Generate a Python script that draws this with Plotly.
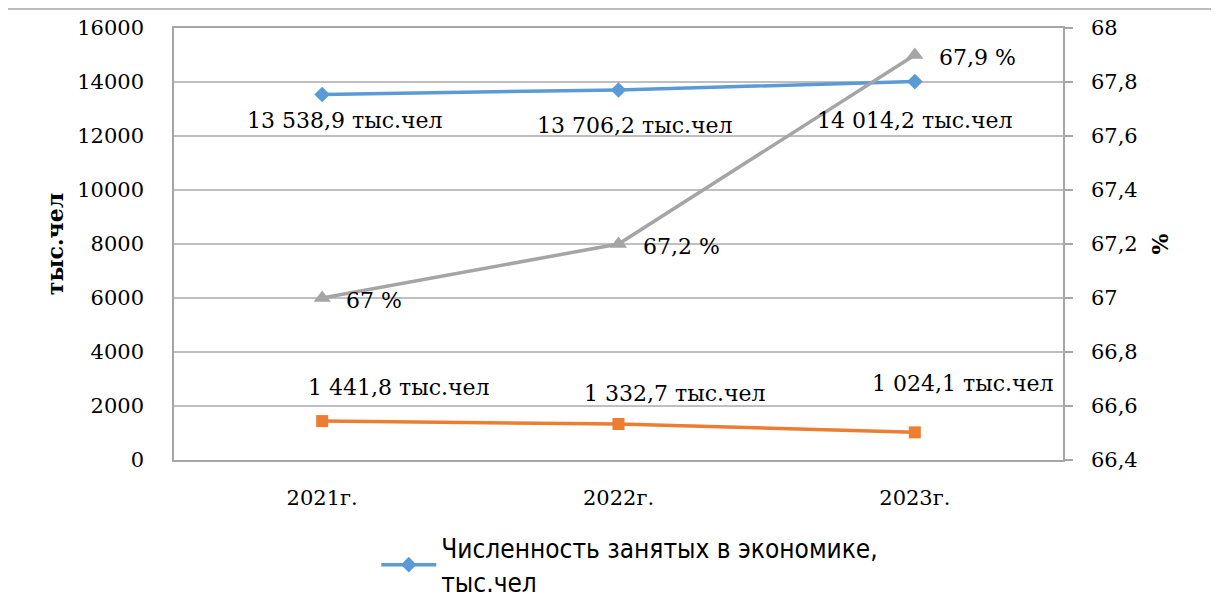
import plotly.graph_objects as go

categories = ["2021г.", "2022г.", "2023г."]
employed = [13538.9, 13706.2, 14014.2]
unemployed = [1441.8, 1332.7, 1024.1]
employment_rate = [67.0, 67.2, 67.9]
left_ticks = [0, 2000, 4000, 6000, 8000, 10000, 12000, 14000, 16000]
right_ticks = [66.4, 66.6, 66.8, 67.0, 67.2, 67.4, 67.6, 67.8, 68.0]

name_emp = "Численность занятых в экономике,<br>тыс.чел"
name_unemp = "Численность безработных, тыс.чел"
name_rate = "Уровень занятости, %"

BLUE = "#5B9BD5"
ORANGE = "#ED7D31"
GRAY = "#A5A5A5"
SERIF = "DejaVu Serif"
LEGEND_FONT = "DejaVu Sans Condensed, DejaVu Sans, sans-serif"


def fmt_thousands(v):
    s = f"{v:,.1f}"
    return s.replace(",", " ").replace(".", ",") + " тыс.чел"


def fmt_pct(v):
    s = f"{v:g}".replace(".", ",")
    return s + " %"


def fmt_tick(v):
    return f"{v:g}".replace(".", ",")


fig = go.Figure()
fig.add_trace(go.Scatter(
    x=categories, y=employed, name=name_emp, mode="lines+markers",
    line=dict(color=BLUE, width=3.5),
    marker=dict(symbol="diamond", size=12, color=BLUE),
    yaxis="y", showlegend=True,
))
fig.add_trace(go.Scatter(
    x=categories, y=unemployed, name=name_unemp, mode="lines+markers",
    line=dict(color=ORANGE, width=3.5),
    marker=dict(symbol="square", size=12, color=ORANGE),
    yaxis="y", showlegend=False,
))
fig.add_trace(go.Scatter(
    x=categories, y=employment_rate, name=name_rate, mode="lines+markers",
    line=dict(color=GRAY, width=3.5),
    marker=dict(symbol="triangle-up", size=15, color=GRAY),
    yaxis="y2", showlegend=False,
))

LABEL_FONT = dict(family=SERIF, size=22, color="#000")
annotations = []
emp_shift = [(23, -26), (16, -36), (0, -39)]
for c, v, (dx, dy) in zip(categories, employed, emp_shift):
    annotations.append(dict(x=c, y=v, xref="x", yref="y", text=fmt_thousands(v),
                            showarrow=False, xshift=dx, yshift=dy, font=LABEL_FONT))
unemp_shift = [(77, 34), (56, 31), (48, 49)]
for c, v, (dx, dy) in zip(categories, unemployed, unemp_shift):
    annotations.append(dict(x=c, y=v, xref="x", yref="y", text=fmt_thousands(v),
                            showarrow=False, xshift=dx, yshift=dy, font=LABEL_FONT))
for c, v in zip(categories, employment_rate):
    annotations.append(dict(x=c, y=v, xref="x", yref="y2", text=fmt_pct(v),
                            showarrow=False, xanchor="left", xshift=22, yshift=-2,
                            font=LABEL_FONT))

TICK_FONT = dict(family=SERIF, size=21, color="#000")
BORDER = dict(color="#A6A6A6", width=1.5)
fig.update_layout(
    width=1203, height=592,
    margin=dict(l=166, r=148, t=20, b=140, autoexpand=False),
    paper_bgcolor="white", plot_bgcolor="white",
    font=dict(family=SERIF, size=21, color="#000"),
    xaxis=dict(
        type="category", range=[-0.5, 2.5],
        showline=True, linecolor="#A6A6A6", linewidth=1.5, mirror=True,
        showgrid=False, ticks="", tickfont=TICK_FONT,
        ticklabelstandoff=18,
    ),
    yaxis=dict(
        range=[0, 16000], tickvals=left_ticks,
        ticktext=[str(t) for t in left_ticks], tickfont=TICK_FONT,
        showgrid=True, gridcolor="#BFBFBF", gridwidth=1.5,
        showline=True, linecolor="#A6A6A6", linewidth=1.5,
        ticks="", ticklabelstandoff=24,
        title=dict(text="<b>тыс.чел</b>", font=dict(family=SERIF, size=22), standoff=8),
        zeroline=False,
    ),
    yaxis2=dict(
        range=[66.4, 68.0], tickvals=right_ticks,
        ticktext=[fmt_tick(t) for t in right_ticks], tickfont=TICK_FONT,
        overlaying="y", side="right", showgrid=False,
        showline=True, linecolor="#A6A6A6", linewidth=1.5,
        ticks="outside", ticklen=8, tickcolor="#A6A6A6", tickwidth=1.5,
        ticklabelstandoff=14,
        title=dict(text="<b>%</b>", font=dict(family=SERIF, size=22), standoff=16),
        zeroline=False,
    ),
    legend=dict(
        x=0.2275, y=-0.149, xanchor="left", yanchor="top",
        font=dict(family=LEGEND_FONT, size=26, color="#000"),
        bgcolor="rgba(0,0,0,0)", itemwidth=55,
    ),
    annotations=annotations,
    shapes=[
        dict(type="line", xref="paper", yref="paper",
             x0=-0.189, x1=1.6, y0=1.044, y1=1.044, line=BORDER, layer="below"),
        dict(type="line", xref="paper", yref="paper",
             x0=-0.189, x1=-0.189, y0=-0.6, y1=1.044, line=BORDER, layer="below"),
    ],
)

fig.write_html("out.html")
